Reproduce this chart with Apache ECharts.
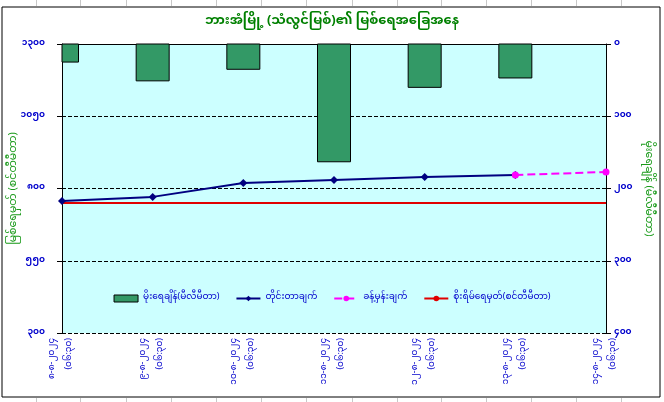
<!DOCTYPE html>
<html>
<head>
<meta charset="utf-8">
<script src="https://cdn.jsdelivr.net/npm/echarts@6/dist/echarts.min.js"></script>
<style>
html,body{margin:0;padding:0;background:#fff;}
#chart{width:664px;height:402px;}
</style>
</head>
<body>
<div id="chart"></div>
<script>
// ---- data ----
var titleText = 'ဘားအံမြို့ (သံလွင်မြစ်)၏ မြစ်ရေအခြေအနေ';
var dates = ['၈-၈-၂၀၂၄','၉-၈-၂၀၂၄','၁၀-၈-၂၀၂၄','၁၁-၈-၂၀၂၄','၁၂-၈-၂၀၂၄','၁၃-၈-၂၀၂၄','၁၄-၈-၂၀၂၄'];
var times = ['(၀၆:၃၀)','(၀၆:၃၀)','(၀၆:၃၀)','(၀၆:၃၀)','(၀၆:၃၀)','(၀၆:၃၀)','(၀၆:၃၀)'];
var rainfall = [25, 51, 35, 163, 60, 47, null];          // mm (right axis)
var observed = [757, 771, 819, 829, 840, 847, null];     // cm (left axis)
var forecast = [null, null, null, null, null, 847, 857]; // cm
var dangerLevel = [750, 750, 750, 750, 750, 750, 750];   // cm
var leftTicks = [300, 550, 800, 1050, 1300];
var rightTicks = [0, 100, 200, 300, 400];
var seriesNames = ['မိုးရေချိန်(မီလီမီတာ)','တိုင်းတာချက်','ခန့်မှန်းချက်','စိုးရိမ်ရေမှတ်(စင်တီမီတာ)'];
var leftAxisName = 'မြစ်ရေမှတ် (စင်တီမီတာ)';
var rightAxisName = 'မိုးရေချိန် (မီလီမီတာ)';

var mmDigits = ['၀','၁','၂','၃','၄','၅','၆','၇','၈','၉'];
function toMM(n){ return String(n).replace(/[0-9]/g, function(d){ return mmDigits[+d]; }); }

var categories = dates.map(function(d, i){ return d + '\n' + times[i]; });
var barData = [];
rainfall.forEach(function(v, i){ if (v != null) barData.push([i, v]); });

var FONT = '"Noto Sans Myanmar","Padauk","Myanmar Text","Noto Sans",sans-serif';
var BLUE = '#0000cc';
var GREEN = '#1a9a1a';
var BAR_COLOR = '#339966';

// decorative spreadsheet cell lines outside the chart frame
var sheetCols = [36, 80, 126, 171, 216, 261, 306, 352, 397, 441, 486, 531, 576, 621];
var deco = [{
  type: 'rect', shape: { x: 2, y: 7, width: 658, height: 390 },
  style: { fill: null, stroke: '#000', lineWidth: 1 }, silent: true, z: -1
}];
sheetCols.forEach(function(x){
  deco.push({ type: 'line', shape: { x1: x + 0.5, y1: 0, x2: x + 0.5, y2: 6 }, style: { stroke: '#c8c8c8', lineWidth: 1 }, silent: true });
  deco.push({ type: 'line', shape: { x1: x + 0.5, y1: 398, x2: x + 0.5, y2: 402 }, style: { stroke: '#c8c8c8', lineWidth: 1 }, silent: true });
});

var chart = echarts.init(document.getElementById('chart'));
chart.setOption({
  animation: false,
  backgroundColor: '#ffffff',
  textStyle: { fontFamily: FONT },
  title: {
    text: titleText, left: 'center', top: 11,
    textStyle: { color: '#008000', fontSize: 13, fontWeight: 'bold', fontFamily: FONT }
  },
  graphic: deco,
  legend: {
    top: 289, left: 'center', itemGap: 16, itemWidth: 24, itemHeight: 7,
    textStyle: { color: BLUE, fontSize: 9, fontFamily: FONT },
    data: [
      { name: seriesNames[0], icon: 'rect', itemStyle: { color: BAR_COLOR, borderColor: '#000', borderWidth: 1 } },
      seriesNames[1], seriesNames[2], seriesNames[3]
    ]
  },
  grid: {
    left: 62, right: 58, top: 44, bottom: 69,
    containLabel: false, outerBoundsMode: 'none',
    show: true, backgroundColor: '#ccffff', borderWidth: 0
  },
  xAxis: {
    type: 'category', data: categories, boundaryGap: false,
    axisLine: { lineStyle: { color: '#000', width: 1 } },
    axisTick: { show: true, length: 4, alignWithLabel: true, lineStyle: { color: '#000' } },
    axisLabel: { rotate: 90, interval: 0, color: BLUE, fontSize: 9, lineHeight: 17, margin: 5,
                 padding: [0, 0, 14, 0], fontFamily: FONT },
    splitLine: { show: false }
  },
  yAxis: [{
    type: 'value', position: 'left', min: leftTicks[0], max: leftTicks[leftTicks.length-1], interval: 250,
    name: leftAxisName, nameLocation: 'middle', nameGap: 42, nameRotate: 90, nameMoveOverlap: false,
    nameTextStyle: { color: GREEN, fontSize: 11, fontFamily: FONT },
    axisLine: { show: true, lineStyle: { color: '#000', width: 1 } },
    axisTick: { show: true, length: 5, lineStyle: { color: '#000' } },
    axisLabel: { color: BLUE, fontSize: 9, fontWeight: 'bold', margin: 17, fontFamily: FONT, formatter: function(v){ return toMM(v); } },
    splitLine: { show: true, lineStyle: { color: '#000', type: 'dashed', width: 1 } }
  }, {
    type: 'value', position: 'right', inverse: true, min: rightTicks[0], max: rightTicks[rightTicks.length-1], interval: 100,
    name: rightAxisName, nameLocation: 'middle', nameGap: 36, nameRotate: -90, nameMoveOverlap: false,
    nameTextStyle: { color: GREEN, fontSize: 11, fontFamily: FONT },
    axisLine: { show: true, lineStyle: { color: '#000', width: 1 } },
    axisTick: { show: true, length: 5, lineStyle: { color: '#000' } },
    axisLabel: { color: BLUE, fontSize: 9, fontWeight: 'bold', margin: 8, fontFamily: FONT, formatter: function(v){ return toMM(v); } },
    splitLine: { show: false }
  }],
  series: [{
    name: seriesNames[0], type: 'custom', xAxisIndex: 0, yAxisIndex: 1, data: barData,
    encode: { x: 0, y: 1 },
    itemStyle: { color: BAR_COLOR, borderColor: '#000', borderWidth: 1 },
    renderItem: function(params, api){
      var idx = api.value(0), val = api.value(1);
      var p0 = api.coord([idx, 0]);
      var p1 = api.coord([idx, val]);
      var w = 33;
      var rect = { x: p0[0] - w / 2, y: p0[1], width: w, height: p1[1] - p0[1] };
      var cs = params.coordSys;
      var clipped = echarts.graphic.clipRectByRect(rect, { x: cs.x, y: cs.y, width: cs.width, height: cs.height });
      if (!clipped) return null;
      return { type: 'rect', shape: clipped, style: { fill: BAR_COLOR, stroke: '#000', lineWidth: 1 } };
    },
    z: 2
  }, {
    name: seriesNames[1], type: 'line', yAxisIndex: 0, data: observed,
    symbol: 'diamond', symbolSize: 8, showSymbol: true,
    lineStyle: { color: '#000080', width: 2 }, itemStyle: { color: '#000080' }, z: 4
  }, {
    name: seriesNames[2], type: 'line', yAxisIndex: 0, data: forecast,
    symbol: 'circle', symbolSize: 7,
    lineStyle: { color: '#ff00ff', width: 2, type: 'dashed' }, itemStyle: { color: '#ff00ff' }, z: 5
  }, {
    name: seriesNames[3], type: 'line', yAxisIndex: 0, data: dangerLevel,
    symbol: 'none', showSymbol: false,
    lineStyle: { color: '#e00000', width: 2 }, itemStyle: { color: '#e00000' }, z: 3
  }]
});
</script>
</body>
</html>
